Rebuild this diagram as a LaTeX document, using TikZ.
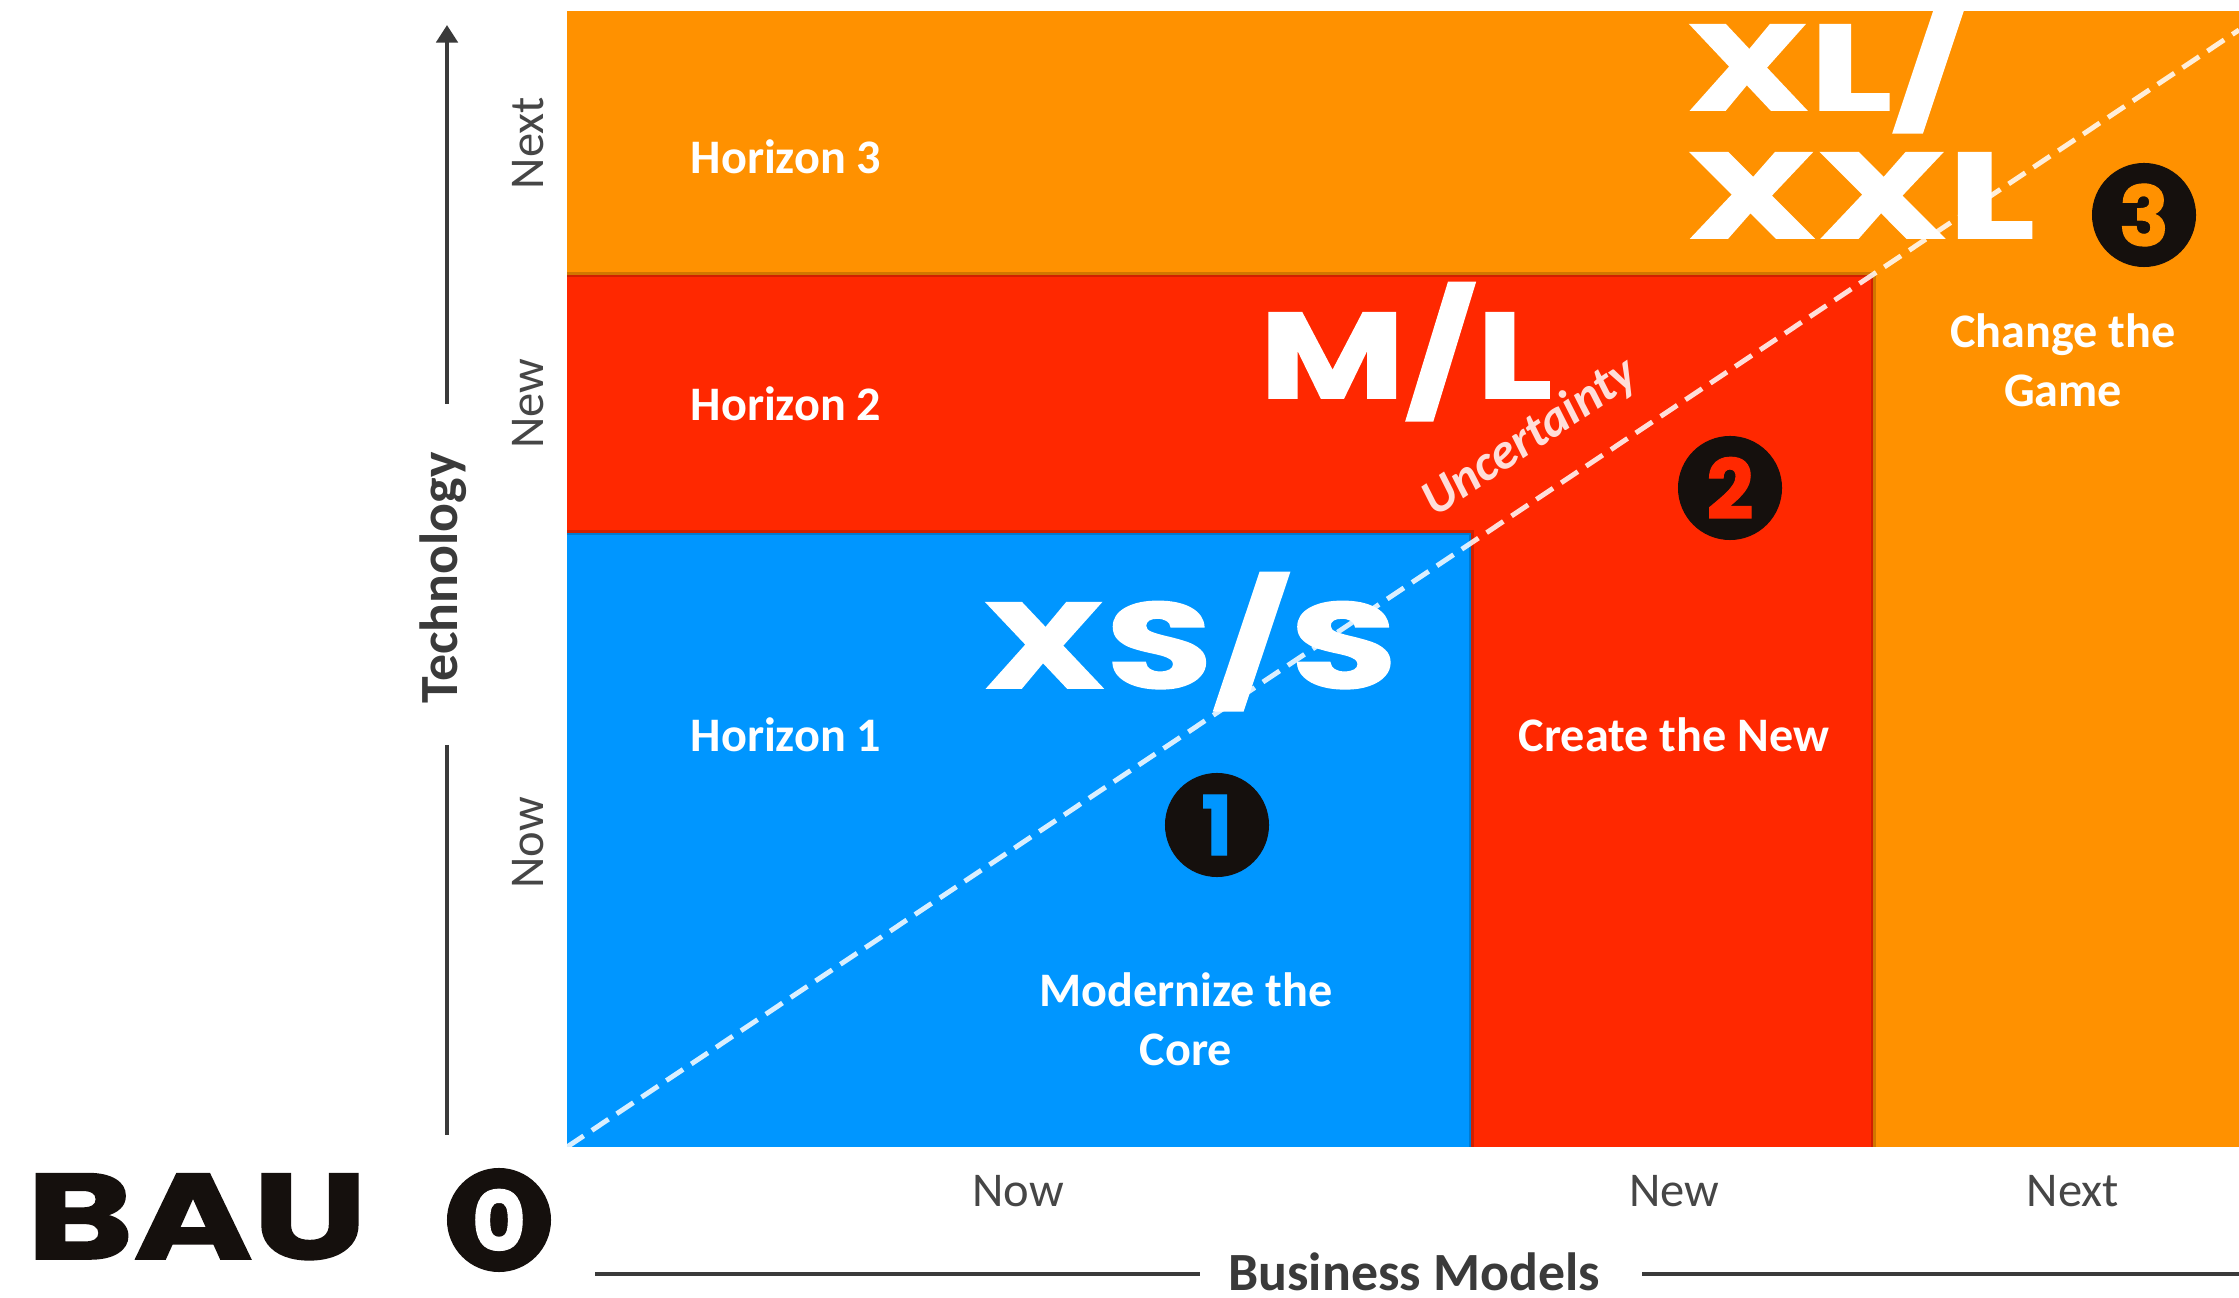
\documentclass[tikz,border=0pt]{standalone}
\usepackage{fontspec}
\setmainfont{Carlito}
\newfontfamily\widefont{Poppins}[BoldFeatures={FakeBold=1.3}]
\usetikzlibrary{arrows.meta}
\definecolor{horange}{RGB}{255,145,0}
\definecolor{hred}{RGB}{255,40,0}
\definecolor{hblue}{RGB}{0,150,255}
\definecolor{ink}{RGB}{21,16,13}
\definecolor{axisgray}{RGB}{58,58,58}
\definecolor{labelgray}{RGB}{70,70,70}
\newcommand\bigtext[2]{\resizebox{#1}{\height}{\widefont\bfseries\fontsize{34.6}{36}\selectfont #2}}
\begin{document}
\begin{tikzpicture}[x=0.01cm,y=-0.01cm,
  horizon/.style={text=white,font=\bfseries\fontsize{13.7}{16.8}\selectfont,inner sep=0pt,align=center},
  sizelabel/.style={text=white,inner sep=0pt,anchor=base west},
  badge/.style={circle,fill=ink,minimum size=1.04cm,inner sep=0pt,font=\widefont\bfseries\fontsize{23.5}{24}\selectfont},
  axislabel/.style={text=labelgray,font=\fontsize{13.8}{15}\selectfont,inner sep=0pt},
  axistitle/.style={text=axisgray,font=\bfseries\fontsize{15.3}{16}\selectfont,inner sep=0pt},
  axisline/.style={draw=axisgray,line width=1.4pt},
  edgeshade/.style={draw=black,opacity=.18,line width=0.05cm},
  uncertain/.style={draw=white,draw opacity=.85,line width=1.4pt,dash pattern=on 5.7pt off 2.8pt}
]
\useasboundingbox (0,0) rectangle (2239,1298);
% regions
\fill[horange] (567,11) rectangle (2239,1147);
\fill[hred] (567,275) rectangle (1873,1147);
\fill[hblue] (567,533) rectangle (1471,1147);
\draw[edgeshade] (567,275) -- (1873,275) -- (1873,1147);
\draw[edgeshade] (567,533) -- (1471,533) -- (1471,1147);
% uncertainty line
\coordinate (d0) at (567,1147);
\coordinate (d1) at (2239,30);
\draw[uncertain] (d0) -- (d1);
\node[text=white,text opacity=.85,font=\bfseries\itshape\fontsize{14.4}{15}\selectfont,rotate=33.7,inner sep=0pt] (unc) at (1530,438) {Uncertainty};
% horizon labels
\node[horizon] (h3) at (786,157) {Horizon 3};
\node[horizon] (h2) at (786,404) {Horizon 2};
\node[horizon] (h1) at (786,735) {Horizon 1};
\node[horizon] (core) at (1186,1019) {Modernize the\\Core};
\node[horizon] (new) at (1674,735) {Create the New};
\node[horizon] (game) at (2063,360) {Change the\\Game};
% big size labels
\node[sizelabel] (xs) at (982,688) {\bigtext{4.14cm}{XS/S}};
\node[sizelabel] (ml) at (1259,398) {\bigtext{2.92cm}{M/L}};
\node[sizelabel] (xl) at (1686,110) {\bigtext{2.83cm}{XL/}};
\node[sizelabel] (xxl) at (1686,238) {\bigtext{3.48cm}{XXL}};
\node[sizelabel,text=ink] (bau) at (26,1259) {\bigtext{3.40cm}{BAU}};
% badges
\node[badge,text=white] (b0) at (499,1220) {0};
\node[badge,text=hblue] (b1) at (1217,825) {1};
\node[badge,text=hred] (b2) at (1730,488) {2};
\node[badge,text=horange] (b3) at (2144,215) {3};
% vertical axis
\node[axistitle,rotate=90] (tech) at (443,578) {Technology};
\coordinate (vtop) at (447,25);
\coordinate (vup) at (447,404);
\coordinate (vlow) at (447,745);
\coordinate (vbot) at (447,1135);
\draw[axisline,-{Triangle[width=6pt,length=5pt]}] (vup) -- (vtop);
\draw[axisline] (vlow) -- (vbot);
\node[axislabel,rotate=90] (tnext) at (528,143) {Next};
\node[axislabel,rotate=90] (tnew) at (528,404) {New};
\node[axislabel,rotate=90] (tnow) at (528,843) {Now};
% horizontal axis
\node[axislabel] (bnow) at (1018,1191) {Now};
\node[axislabel] (bnew) at (1674,1191) {New};
\node[axislabel] (bnext) at (2073,1191) {Next};
\node[axistitle,anchor=base] (bm) at (1414,1290) {Business Models};
\coordinate (h0) at (595,1274);
\coordinate (h1a) at (1200,1274);
\coordinate (h1b) at (1642,1274);
\coordinate (h2e) at (2239,1274);
\draw[axisline] (h0) -- (h1a);
\draw[axisline] (h1b) -- (h2e);
\end{tikzpicture}
\end{document}
